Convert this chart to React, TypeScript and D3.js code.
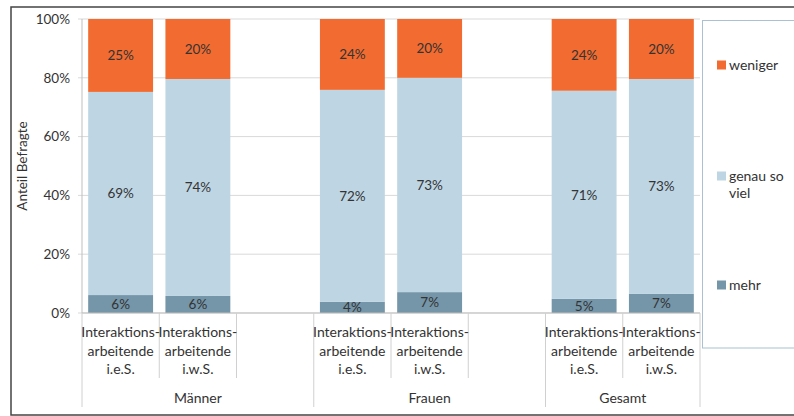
import React from "react";
import * as d3 from "d3";

const slots = ["M1", "M2", "M-gap", "F1", "F2", "F-gap", "G1", "G2"];
const barSlots = ["M1", "M2", "F1", "F2", "G1", "G2"];
const barSubLabels = ["i.e.S.", "i.w.S.", "i.e.S.", "i.w.S.", "i.e.S.", "i.w.S."];
const groupNames = ["Männer", "Frauen", "Gesamt"];
const groupSlots = [["M1", "M2", "M-gap"], ["F1", "F2", "F-gap"], ["G1", "G2"]];
const seriesNames = ["mehr", "genau so viel", "weniger"];
const mehr = [6.1, 5.8, 3.8, 7.1, 4.8, 6.5];
const genau = [69.1, 73.8, 72.1, 72.9, 70.8, 73.1];
const weniger = [24.8, 20.4, 24.1, 20.0, 24.4, 20.4];
const yTicks = [0, 20, 40, 60, 80, 100];

const colors: Record<string, string> = {
  mehr: "#7595A8",
  "genau so viel": "#BED5E3",
  weniger: "#F26B30",
};

const FONT = "Lato, 'Open Sans', sans-serif";

export default function App() {
  const W = 794, H = 416;
  const left = 82, right = 700, top = 19, bottom = 313;
  const x = d3.scaleBand<string>().domain(slots).range([left, right]).padding(0);
  const y = d3.scaleLinear().domain([0, 100]).range([bottom, top]);
  const bw = x.bandwidth();
  const barW = bw * 0.84;

  const rows = barSlots.map((s, i) => ({ slot: s, mehr: mehr[i], "genau so viel": genau[i], weniger: weniger[i] }));
  const stack = d3.stack<any>().keys(seriesNames)(rows);
  const fmt = (v: number) => `${Math.round(v)}%`;

  const boundaries: { x: number; long: boolean }[] = [];
  const groupEdges = new Set<number>();
  groupSlots.forEach((g) => {
    groupEdges.add(Math.round(x(g[0])!));
    groupEdges.add(Math.round(x(g[g.length - 1])! + bw));
  });
  for (let i = 0; i <= slots.length; i++) {
    const bx = i < slots.length ? x(slots[i])! : x(slots[slots.length - 1])! + bw;
    boundaries.push({ x: bx, long: groupEdges.has(Math.round(bx)) });
  }

  const legendItems = [
    { key: "weniger", lines: ["weniger"], y: 65 },
    { key: "genau so viel", lines: ["genau so", "viel"], y: 176 },
    { key: "mehr", lines: ["mehr"], y: 285 },
  ];

  return (
    <svg width={W} height={H} style={{ position: "absolute", left: 0, top: 0, background: "#fff" }} fontFamily={FONT}>
      <rect x={11} y={7} width={W + 20} height={408} fill="none" stroke="#444" strokeWidth={1.5} />
      {yTicks.map((t) => (
        <g key={t}>
          <line x1={left - 4} x2={right} y1={y(t)} y2={y(t)} stroke="#D9D9D9" strokeWidth={1} />
          <text x={70} y={y(t)} dy="0.35em" textAnchor="end" fontSize={13.5} fill="#333">{`${t}%`}</text>
        </g>
      ))}
      <line x1={left} x2={left} y1={top} y2={bottom} stroke="#BFBFBF" />
      <text transform={`translate(22,166) rotate(-90)`} textAnchor="middle" dy="0.35em" fontSize={13.5} fill="#333">Anteil Befragte</text>
      {stack.map((layer) =>
        layer.map((d, i) => {
          const slot = barSlots[i];
          const bx = x(slot)! + (bw - barW) / 2;
          const y0 = y(d[0]), y1 = y(d[1]);
          return (
            <g key={layer.key + i}>
              <rect x={bx} y={y1} width={barW} height={y0 - y1} fill={colors[layer.key]} />
              <text x={bx + barW / 2} y={(y0 + y1) / 2} dy="0.35em" textAnchor="middle" fontSize={13.5} fill="#333">
                {fmt(d[1] - d[0])}
              </text>
            </g>
          );
        })
      )}
      <line x1={left} x2={right} y1={bottom} y2={bottom} stroke="#BFBFBF" />
      {boundaries.map((b, i) => (
        <line key={i} x1={b.x} x2={b.x} y1={bottom} y2={b.long ? 407 : 378} stroke="#D0D0D0" />
      ))}
      {barSlots.map((s, i) => {
        const cx = x(s)! + bw / 2;
        return (
          <text key={s} textAnchor="middle" fontSize={14} fill="#333">
            <tspan x={cx} y={337}>Interaktions-</tspan>
            <tspan x={cx} y={356}>arbeitende</tspan>
            <tspan x={cx} y={374}>{barSubLabels[i]}</tspan>
          </text>
        );
      })}
      {groupNames.map((g, i) => {
        const gs = groupSlots[i];
        const cx = (x(gs[0])! + x(gs[gs.length - 1])! + bw) / 2;
        return (
          <text key={g} x={cx} y={403} textAnchor="middle" fontSize={14} fill="#333">{g}</text>
        );
      })}
      <rect x={702.5} y={20.5} width={120} height={327.5} fill="#fff" stroke="#A9C1D1" />
      {legendItems.map((it) => (
        <g key={it.key}>
          <rect x={717} y={it.y - 4.5} width={9} height={9} fill={colors[it.key]} />
          <text fontSize={14} fill="#333">
            {it.lines.map((l, j) => (
              <tspan key={j} x={729} y={it.y + j * 17} dy="0.35em">{l}</tspan>
            ))}
          </text>
        </g>
      ))}
    </svg>
  );
}
